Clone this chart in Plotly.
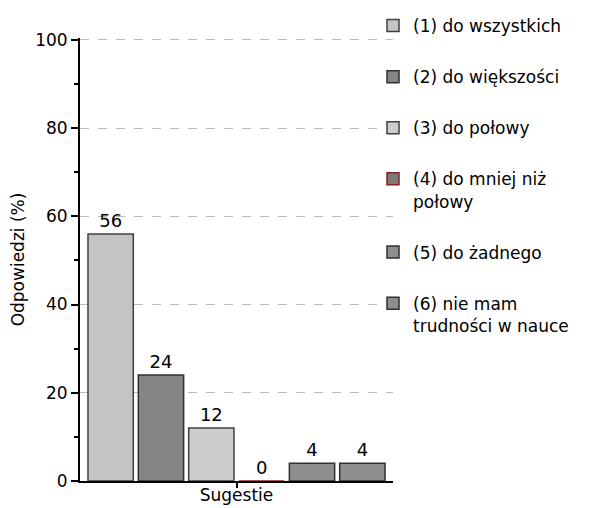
import plotly.graph_objects as go

category = ["Sugestie"]
series_names = [
    "(1) do wszystkich",
    "(2) do większości",
    "(3) do połowy",
    "(4) do mniej niż<br>połowy",
    "(5) do żadnego",
    "(6) nie mam<br>trudności w nauce",
]
values = [56, 24, 12, 0, 4, 4]
bar_colors = ["#c4c4c4", "#858585", "#cdcdcd", "#7a7a7a", "#8e8e8e", "#8e8e8e"]
line_colors = ["#404040", "#303030", "#404040", "#8b2020", "#303030", "#303030"]

FONT = "DejaVu Sans"
W, H = 584, 500  # page body has an 8px margin

fig = go.Figure()
for i, (name, v) in enumerate(zip(series_names, values)):
    fig.add_trace(go.Bar(
        x=category, y=[v], name=name,
        legendgroup=f"g{i}",
        marker=dict(color=bar_colors[i], line=dict(color=line_colors[i], width=1.5)),
        text=[str(v)], textposition="outside", cliponaxis=False,
        textfont=dict(size=18, color="black", family=FONT),
    ))

fig.update_layout(
    width=W, height=H,
    margin=dict(l=72, r=199, t=30, b=27, autoexpand=False),
    paper_bgcolor="white", plot_bgcolor="white",
    font=dict(family=FONT, size=17, color="black"),
    barmode="group", bargap=0.035, bargroupgap=0.1,
    showlegend=True,
    legend=dict(x=0.625, xref="container", xanchor="left",
                y=1.0, yref="container", yanchor="top",
                font=dict(size=17, family=FONT), tracegroupgap=26,
                valign="top", bgcolor="rgba(0,0,0,0)", maxheight=1.0),
    xaxis=dict(showline=True, linecolor="black", linewidth=2, automargin=False,
               ticks="outside", ticklen=5, tickcolor="black", tickwidth=2,
               ticklabelstandoff=-7,
               showgrid=False, tickfont=dict(size=17)),
    yaxis=dict(range=[0, 100.4], tickvals=[0, 20, 40, 60, 80, 100],
               showline=True, linecolor="black", linewidth=2,
               automargin=False,
               ticks="outside", ticklen=7, tickcolor="black", tickwidth=1.5,
               minor=dict(tickvals=[10, 30, 50, 70, 90], ticks="outside", ticklen=4,
                          tickcolor="black", showgrid=False),
               showgrid=True, gridcolor="#bbbbbb", griddash="dash", gridwidth=1,
               zeroline=False,
               title=dict(text="Odpowiedzi (%)", font=dict(size=17), standoff=10),
               tickfont=dict(size=17)),
)

fig.write_html("out.html")
